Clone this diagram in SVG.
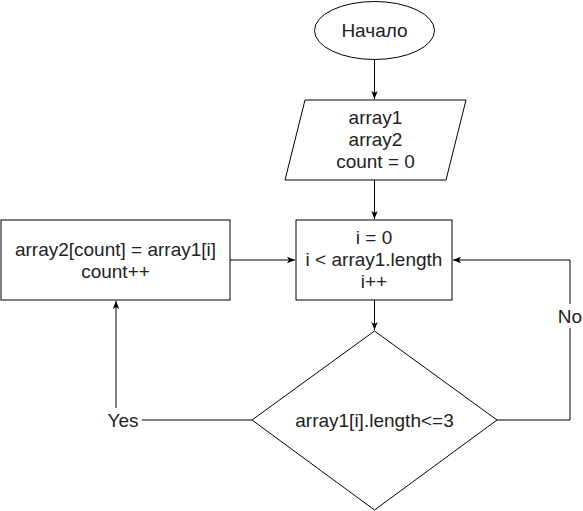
<svg xmlns="http://www.w3.org/2000/svg" width="583" height="511" viewBox="0 0 583 511">
<defs>
<marker id="arr" viewBox="0 0 10 10" refX="10" refY="5" markerWidth="8" markerHeight="8" markerUnits="userSpaceOnUse" orient="auto">
<path d="M0,1 L10,5 L0,9 L2.5,5 Z" fill="#000"/>
</marker>
<style>
.s{fill:#fff;stroke:#000;stroke-width:1}
.t{font-family:"Liberation Sans",Arial,sans-serif;font-size:19px;fill:#222;text-anchor:middle}
.c{fill:none;stroke:#000;stroke-width:1}
.lbl{font-family:"Liberation Sans",Arial,sans-serif;font-size:19px;fill:#222;text-anchor:middle}
</style>
</defs>
<rect width="583" height="511" fill="#fff"/>
<g id="connectors">
<path class="c" d="M374.5,60 V99" marker-end="url(#arr)"/>
<path class="c" d="M374.5,180 V219" marker-end="url(#arr)"/>
<path class="c" d="M374.5,300 V330" marker-end="url(#arr)"/>
<path class="c" d="M230,260 H295" marker-end="url(#arr)"/>
<path class="c" d="M497,420 H570 V260 H453" marker-end="url(#arr)"/>
<path class="c" d="M252,420 H116 V301" marker-end="url(#arr)"/>
<rect x="556" y="304" width="28" height="24" fill="#fff"/>
<text class="lbl" x="570" y="323">No</text>
<rect x="104" y="408" width="38" height="24" fill="#fff"/>
<text class="lbl" x="123" y="427">Yes</text>
</g>
<g id="start">
<ellipse class="s" cx="374.5" cy="30.5" rx="60" ry="29"/>
<text class="t" x="374.5" y="37">Начало</text>
</g>
<g id="input">
<polygon class="s" points="305,100 466,100 446,180 285,180"/>
<text class="t" x="375.5" y="124">array1</text>
<text class="t" x="375.5" y="146">array2</text>
<text class="t" x="375.5" y="168">count = 0</text>
</g>
<g id="loop">
<rect class="s" x="296" y="220" width="156" height="80"/>
<text class="t" x="374" y="244">i = 0</text>
<text class="t" x="374" y="266">i &lt; array1.length</text>
<text class="t" x="374" y="288">i++</text>
</g>
<g id="assign">
<rect class="s" x="1" y="220" width="229" height="80"/>
<text class="t" x="115.5" y="256">array2[count] = array1[i]</text>
<text class="t" x="115.5" y="278">count++</text>
</g>
<g id="decision">
<polygon class="s" points="374.5,331 497,420 374.5,510 252,420"/>
<text class="t" x="374.5" y="427">array1[i].length&lt;=3</text>
</g>
</svg>
